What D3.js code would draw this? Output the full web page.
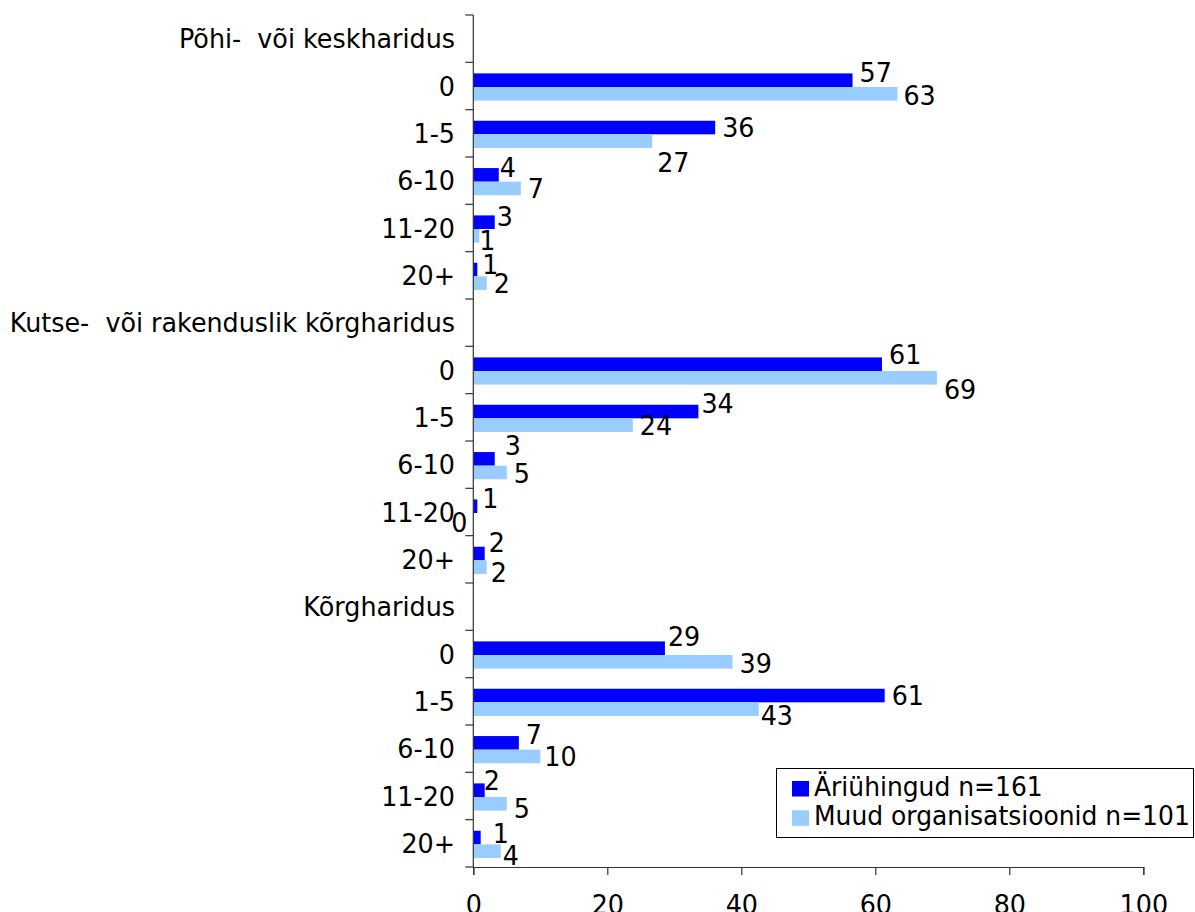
<!DOCTYPE html>
<html>
<head>
<meta charset="utf-8">
<script src="https://cdn.jsdelivr.net/npm/d3@7"></script>
<style>
  html, body { margin: 0; padding: 0; background: #fff; }
  svg { display: block; font-family: "DejaVu Sans", Verdana, sans-serif; }
</style>
</head>
<body>
<svg id="chart" width="1195" height="912"></svg>
<script>
// ---- data ----
const groups = ["Põhi-  või keskharidus", "Kutse-  või rakenduslik kõrgharidus", "Kõrgharidus"];
const classes = ["0", "1-5", "6-10", "11-20", "20+"];
const seriesNames = ["Äriühingud n=161", "Muud organisatsioonid n=101"];
// values per group, classes in order 0, 1-5, 6-10, 11-20, 20+
const ariyhingud = [
  [56.6, 36.1, 3.8, 3.2, 0.6],
  [61.0, 33.6, 3.2, 0.6, 1.7],
  [28.6, 61.4, 6.8, 1.7, 1.1]
];
const muud = [
  [63.3, 26.7, 7.1, 0.9, 2.0],
  [69.2, 23.8, 5.0, 0.0, 2.0],
  [38.7, 42.6, 10.0, 5.0, 4.1]
];
const xTicks = [0, 20, 40, 60, 80, 100];

// label nudges (dx, dy in px) mimicking the original label placement
const nudgeDark = [
  [[0,-7.5],[0,0],[-6,-7.4],[-5,-5.7],[-2,-5.7]],
  [[0,-9.7],[-4,-8.8],[3,-13.2],[-2,-7.5],[-3,-11.2]],
  [[-4,-12],[0,0],[0,-8.2],[-8,-9.7],[5,-4]]
];
const nudgeLight = [
  [[-1,1],[-2,20.7],[0,0],[-7,4.9],[0,0]],
  [[0,11.3],[0,0],[0,1],[-29,2],[-3,4.9]],
  [[0,1],[-5,5.8],[-3,0],[0,4.7],[-5,4.5]]
];

const colors = ["#0000FF", "#99CCFF"];

// ---- layout ----
const svg = d3.select("#chart");
const pLeft = 473.3, pRight = 1143.3, pTop = 15, pBottom = 867;
const fs = 25.4;
const vStretch = 1.07; // reference glyphs are slightly taller than wide

function stretch(sel) {
  // apply a vertical stretch around each text's own baseline position
  sel.each(function() {
    const t = d3.select(this);
    const tx = +t.attr("x") || 0, ty = +t.attr("y") || 0;
    const prev = t.attr("transform") || "";
    t.attr("transform", `${prev} translate(${tx},${ty}) scale(1,${vStretch}) translate(${-tx},${-ty})`);
  });
}

// row list: for each group a header row followed by the class rows
const rows = [];
groups.forEach((g, gi) => {
  rows.push({key: "h" + gi, label: g, header: true});
  classes.forEach((c, ci) => rows.push({key: gi + "_" + ci, label: c, gi, ci}));
});

const x = d3.scaleLinear().domain([0, 100]).range([pLeft, pRight]);
const y = d3.scaleBand().domain(rows.map(r => r.key)).range([pTop, pBottom]).paddingInner(0).paddingOuter(0);
const bh = 13.6;

// bars
const barData = [];
rows.filter(r => !r.header).forEach(r => {
  barData.push({r, s: 0, v: ariyhingud[r.gi][r.ci], n: nudgeDark[r.gi][r.ci]});
  barData.push({r, s: 1, v: muud[r.gi][r.ci], n: nudgeLight[r.gi][r.ci]});
});
const barY = d => y(d.r.key) + y.bandwidth() / 2 + 1 - bh + d.s * bh;

svg.append("g").selectAll("rect").data(barData).join("rect")
  .attr("x", x(0))
  .attr("y", d => barY(d))
  .attr("width", d => x(d.v) - x(0))
  .attr("height", bh)
  .attr("fill", d => colors[d.s]);

// value labels
svg.append("g").selectAll("text").data(barData).join("text")
  .attr("x", d => x(d.v) + 7 + d.n[0])
  .attr("y", d => barY(d) + bh / 2 + d.n[1])
  .attr("dy", "0.36em")
  .attr("font-size", fs)
  .attr("fill", "#000")
  .text(d => Math.round(d.v))
  .call(stretch);

// y axis
const yTickPos = d3.range(rows.length + 1).map(i => pTop + i * y.step());
const ya = svg.append("g");
ya.append("line").attr("x1", pLeft).attr("x2", pLeft).attr("y1", pTop).attr("y2", pBottom)
  .attr("stroke", "#333").attr("stroke-width", 1.2);
ya.selectAll("line.t").data(yTickPos).join("line").attr("class", "t")
  .attr("x1", pLeft - 8).attr("x2", pLeft).attr("y1", d => d).attr("y2", d => d)
  .attr("stroke", "#333").attr("stroke-width", 1.2);
ya.selectAll("text").data(rows).join("text")
  .attr("x", 455)
  .attr("y", r => y(r.key) + y.bandwidth() / 2)
  .attr("dy", "0.36em")
  .attr("text-anchor", "end")
  .attr("font-size", fs)
  .attr("fill", "#000")
  .style("white-space", "pre")
  .text(r => r.label)
  .call(stretch);

// x axis
const xa = svg.append("g").attr("transform", `translate(0,${pBottom})`)
  .call(d3.axisBottom(x).tickValues(xTicks).tickSize(8).tickPadding(10).tickFormat(d3.format("d")));
xa.select(".domain").attr("stroke", "#333").attr("stroke-width", 1.2);
xa.selectAll(".tick line").attr("stroke", "#333").attr("stroke-width", 1.2);
xa.selectAll(".tick text").attr("font-size", fs).attr("font-family", "DejaVu Sans, Verdana, sans-serif")
  .attr("fill", "#000").attr("dy", null).attr("y", 47)
  .call(stretch);

// legend
const lg = svg.append("g");
lg.append("rect").attr("x", 776.5).attr("y", 768.5).attr("width", 417).attr("height", 69)
  .attr("fill", "#fff").attr("stroke", "#000").attr("stroke-width", 1);
seriesNames.forEach((nm, i) => {
  lg.append("rect").attr("x", 792).attr("y", 781 + i * 29.3).attr("width", 17).attr("height", 15.5)
    .attr("fill", colors[i]);
  lg.append("text").attr("x", 814).attr("y", 796 + i * 29.3)
    .attr("font-size", 25).attr("fill", "#000").text(nm)
    .call(stretch);
});
</script>
</body>
</html>
